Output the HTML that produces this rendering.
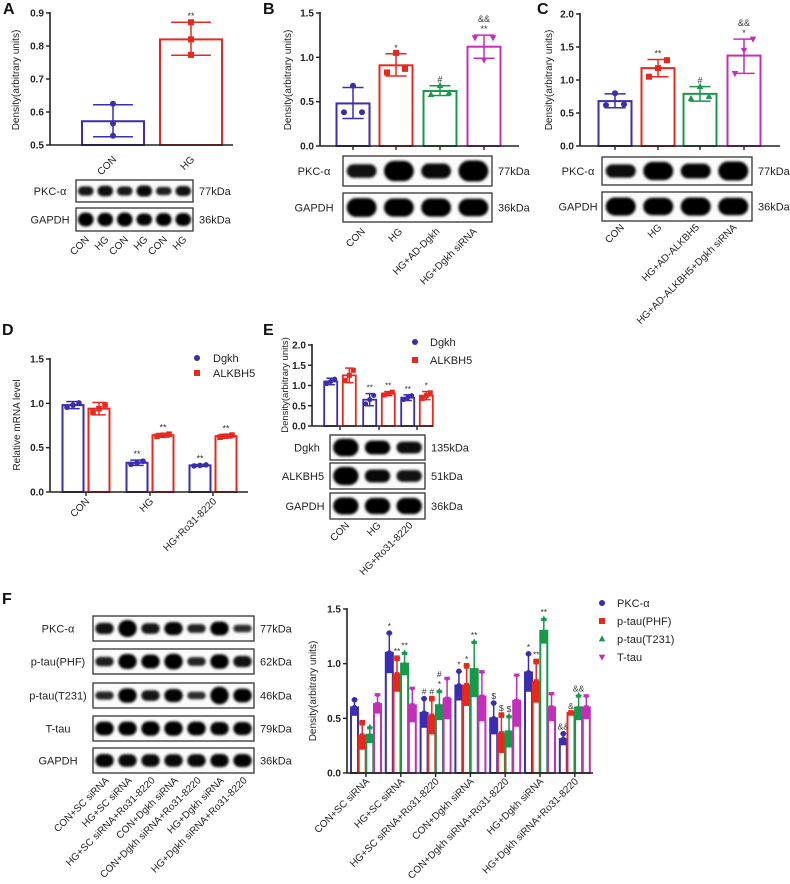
<!DOCTYPE html>
<html><head><meta charset="utf-8">
<style>
html,body{margin:0;padding:0;background:#fff;}
svg{display:block;font-family:"Liberation Sans",Arial,sans-serif;}
</style></head>
<body>
<svg id="fig" width="790" height="884" viewBox="0 0 790 884" xmlns="http://www.w3.org/2000/svg">
<defs><filter id="blur" x="-20%" y="-50%" width="140%" height="200%"><feGaussianBlur stdDeviation="1.2"/></filter></defs>
<g font-weight="bold" font-size="16" fill="#111">
<text x="3" y="14">A</text>
<text x="263" y="14">B</text>
<text x="537" y="14">C</text>
<text x="2" y="335">D</text>
<text x="263" y="335">E</text>
<text x="2" y="604">F</text>
</g>
</svg>
<script>
// ---- Panel A data ----
const aCats=['CON','HG'];
const aMean=[0.572,0.82];
const aLo=[0.525,0.772];
const aHi=[0.622,0.872];
const aPts=[[0.625,0.565,0.528],[0.872,0.82,0.773]];
const aSig=['','**'];
const aTicks=[0.5,0.6,0.7,0.8,0.9];
// ---- Panel B data ----
const bCats=['CON','HG','HG+AD-Dgkh','HG+Dgkh siRNA'];
const bMean=[0.48,0.91,0.62,1.12];
const bLo=[0.31,0.79,0.57,0.99];
const bHi=[0.66,1.04,0.68,1.25];
const bPts=[[0.38,0.68,0.38],[0.83,1.05,0.87],[0.58,0.68,0.6],[1.22,0.97,1.22]];
const bSig=['','*','#','&&\n**'];
const bTicks=[0,0.5,1.0,1.5];
// ---- Panel C data ----
const cCats=['CON','HG','HG+AD-ALKBH5','HG+AD-ALKBH5+Dgkh siRNA'];
const cMean=[0.68,1.18,0.79,1.37];
const cLo=[0.58,1.05,0.68,1.1];
const cHi=[0.79,1.31,0.9,1.62];
const cPts=[[0.62,0.8,0.63],[1.05,1.18,1.3],[0.72,0.9,0.75],[1.1,1.45,1.62]];
const cSig=['','**','#','&&\n*'];
const cTicks=[0,0.5,1.0,1.5,2.0];
// ---- Panel D data ----
const dCats=['CON','HG','HG+Ro31-8220'];
const dDgkh=[0.98,0.33,0.3];
const dAlk=[0.94,0.64,0.63];
const dDgkhErr=[0.04,0.03,0.01];
const dAlkErr=[0.07,0.02,0.02];
const dDgkhSig=['','**','**'];
const dAlkSig=['','**','**'];
const dTicks=[0,0.5,1.0,1.5];
// ---- Panel E data ----
const eCats=['CON','HG','HG+Ro31-8220'];
const eDgkh=[1.1,0.65,0.7];
const eAlk=[1.25,0.8,0.75];
const eDgkhErr=[0.08,0.15,0.07];
const eAlkErr=[0.18,0.05,0.1];
const eDgkhSig=['','**','**'];
const eAlkSig=['','**','*'];
const eTicks=[0,0.5,1.0,1.5,2.0];
// ---- Panel F data ----
const fCats=['CON+SC siRNA','HG+SC siRNA','HG+SC siRNA+Ro31-8220','CON+Dgkh siRNA','CON+Dgkh siRNA+Ro31-8220','HG+Dgkh siRNA','HG+Dgkh siRNA+Ro31-8220'];
const fSeries=['PKC-α','p-tau(PHF)','p-tau(T231)','T-tau'];
const fPKC=[0.6,1.1,0.55,0.8,0.5,0.92,0.31];
const fPHF=[0.34,0.9,0.52,0.8,0.36,0.835,0.55];
const fT231=[0.35,1.0,0.62,0.95,0.38,1.3,0.6];
const fTau=[0.63,0.62,0.68,0.7,0.66,0.6,0.6];
const fPKCHi=[0.67,1.28,0.68,0.93,0.64,1.09,0.36];
const fPHFHi=[0.46,1.05,0.68,0.98,0.53,1.02,0.55];
const fT231Hi=[0.42,1.1,0.75,1.2,0.52,1.41,0.71];
const fTauHi=[0.71,0.77,0.86,0.92,0.89,0.72,0.7];
const fPKCSig=['','*','#','*','$','*','&&'];
const fPHFSig=['','**','#','*','$','**','&'];
const fT231Sig=['','**','#\n*','**','$','**','&&'];
const fTauSig=['','','','','','',''];
const fTicks=[0,0.5,1.0,1.5];

const NS='http://www.w3.org/2000/svg';
const svg=document.getElementById('fig');
const COL=['#3a2db0','#e8281e','#17994a','#c22fb8'];
const SHP=['circle','square','up','down'];
function mk(tag,attrs,parent){const e=document.createElementNS(NS,tag);for(const k in attrs)e.setAttribute(k,attrs[k]);(parent||svg).appendChild(e);return e;}
function txt(x,y,s,attrs,parent){const e=mk('text',Object.assign({x:x,y:y},attrs||{}),parent);e.textContent=s;return e;}
function scaleY(bot,top,vmin,vmax){return v=>bot-(v-vmin)/(vmax-vmin)*(bot-top);}
function axes(g,ax,top,bot,xEnd,ticks,y,ticksX,fs){
  const l1=mk('line',{x1:ax,y1:top-1,x2:ax,y2:bot,stroke:'#222','stroke-width':1.6},g);
  
  
  const l2=mk('line',{x1:ax,y1:bot,x2:xEnd,y2:bot,stroke:'#222','stroke-width':1.6},g);
  
  
  ticks.forEach(t=>{
    mk('line',{x1:ax-4,y1:y(t),x2:ax,y2:y(t),stroke:'#222','stroke-width':1.4},g);
    const tl=txt(ax-6,y(t)+3.5,t.toFixed(1),{'text-anchor':'end','font-size':fs||10,'font-weight':'bold',fill:'#222'},g);
    
    
  });
  ticksX.forEach(x=>mk('line',{x1:x,y1:bot,x2:x,y2:bot+4,stroke:'#222','stroke-width':1.4},g));
}
function marker(g,shape,x,y,r,c){
  if(shape==='circle')return mk('circle',{cx:x,cy:y,r:r,fill:c},g);
  if(shape==='square')return mk('rect',{x:x-r,y:y-r,width:2*r,height:2*r,fill:c},g);
  if(shape==='up')return mk('polygon',{points:`${x},${y-r*1.2} ${x-r*1.1},${y+r*0.8} ${x+r*1.1},${y+r*0.8}`,fill:c},g);
  return mk('polygon',{points:`${x},${y+r*1.2} ${x-r*1.1},${y-r*0.8} ${x+r*1.1},${y-r*0.8}`,fill:c},g);
}
function bar(g,cx,w,mean,lo,hi,y,bot,col,sw){
  const r=mk('rect',{x:cx-w/2,y:y(mean),width:w,height:bot-y(mean),fill:'#fff',stroke:col,'stroke-width':sw||2},g);
  
  
  const cap=Math.max(w*0.32,3);
  mk('line',{x1:cx,y1:y(hi),x2:cx,y2:y(lo),stroke:col,'stroke-width':1.5},g);
  mk('line',{x1:cx-cap,y1:y(hi),x2:cx+cap,y2:y(hi),stroke:col,'stroke-width':1.5},g);
  mk('line',{x1:cx-cap,y1:y(lo),x2:cx+cap,y2:y(lo),stroke:col,'stroke-width':1.5},g);
  return r;
}
function sig(g,x,yTop,s,fs){
  const lines=s.split('\n').reverse();
  lines.forEach((ln,i)=>{if(ln)txt(x,yTop-3-i*10,ln,{'text-anchor':'middle','font-size':fs||9,fill:'#333'},g);});
}
function rotLabel(g,x,y,s,fs){
  const t=txt(x,y,s,{'text-anchor':'end','font-size':fs||9.5,fill:'#222',transform:`rotate(-45 ${x} ${y})`},g);
  
  
  return t;
}
function yTitle(g,x,cy,s,fs){
  const t=txt(x,cy,s,{'text-anchor':'middle','font-size':fs||10,fill:'#222',transform:`rotate(-90 ${x} ${cy})`},g);
  
  
}
function blot(g,x1,y1,x2,y2,ints,label,kda,name,lx){
  const bg=mk('g',{},g);
  
  
  mk('rect',{x:x1,y:y1,width:x2-x1,height:y2-y1,fill:'#fbfbfb',stroke:'#333','stroke-width':1.3},bg);
  const n=ints.length,lw=(x2-x1)/n,h=y2-y1;
  ints.forEach((v,i)=>{
    const cx=x1+lw*(i+0.5),bw=lw*0.8,bh=Math.max(3,h*0.2+h*0.5*v);
    mk('rect',{x:cx-bw/2,y:(y1+y2)/2-bh/2,width:bw,height:bh,rx:bh/2,fill:`rgba(5,5,5,${0.65+0.35*Math.min(1,v+0.3)})`,filter:'url(#blur)'},bg);
  });
  txt(lx,(y1+y2)/2+4,label,{'text-anchor':'middle','font-size':11,fill:'#222'},bg);
  txt(x2+6,(y1+y2)/2+4,kda,{'font-size':11,fill:'#222'},bg);
}

// ===== Panel A =====
(function(){
  const g=mk('g',{});
  const ax=50,top=13,bot=145,xEnd=233,cs=[113,191],w=62;
  const y=scaleY(bot,top,0.5,0.9);
  aCats.forEach((c,i)=>{
    bar(g,cs[i],w,aMean[i],aLo[i],aHi[i],y,bot,COL[i],2);
    aPts[i].forEach(p=>marker(g,SHP[i],cs[i],y(p),3,COL[i]));
    sig(g,cs[i],y(aHi[i]),aSig[i]);
    rotLabel(g,cs[i]+4,160,c,10);
  });
  axes(g,ax,top,bot,xEnd,aTicks,y,[],10);
  yTitle(g,19,80,'Density(arbitrary units)',10);
  blot(g,76,180,193,202,[0.45,0.55,0.42,0.6,0.35,0.5],'PKC-α','77kDa','blot-a-pkc',50);
  blot(g,76,208,193,231,[0.8,0.75,0.8,0.65,0.7,0.7],'GAPDH','36kDa','blot-a-gapdh',50);
  ['CON','HG','CON','HG','CON','HG'].forEach((s,i)=>rotLabel(g,76+19.5*(i+0.5)+4,240,s,10));
})();
// ===== Panel B =====
(function(){
  const g=mk('g',{});
  const ax=320,top=13,bot=146,xEnd=519,cs=[353,396,440,484],w=33;
  const y=scaleY(bot,top,0,1.5);
  bCats.forEach((c,i)=>{
    bar(g,cs[i],w,bMean[i],bLo[i],bHi[i],y,bot,COL[i],2);
    bPts[i].forEach((p,k)=>marker(g,SHP[i],cs[i]+(k-1)*9,y(p),3,COL[i]));
    sig(g,cs[i],y(bHi[i]),bSig[i]);
  });
  axes(g,ax,top,bot,xEnd,bTicks,y,cs,10);
  yTitle(g,291,80,'Density(arbitrary units)',10);
  blot(g,343,156,492,186,[0.5,0.95,0.6,1.0],'PKC-α','77kDa','blot-b-pkc',314);
  blot(g,343,193,492,222,[0.9,0.85,0.85,0.8],'GAPDH','36kDa','blot-b-gapdh',314);
  bCats.forEach((c,i)=>rotLabel(g,343+37.25*(i+0.5)+4,232,c,10));
})();
// ===== Panel C =====
(function(){
  const g=mk('g',{});
  const ax=580,top=14,bot=146,xEnd=780,cs=[615,658,700,744],w=33;
  const y=scaleY(bot,top,0,2);
  cCats.forEach((c,i)=>{
    bar(g,cs[i],w,cMean[i],cLo[i],cHi[i],y,bot,COL[i],2);
    cPts[i].forEach((p,k)=>marker(g,SHP[i],cs[i]+(k-1)*9,y(p),3,COL[i]));
    sig(g,cs[i],y(cHi[i]),cSig[i]);
  });
  axes(g,ax,top,bot,xEnd,cTicks,y,cs,10);
  yTitle(g,552,80,'Density(arbitrary units)',10);
  blot(g,602,157,752,185,[0.55,0.9,0.65,0.95],'PKC-α','77kDa','blot-c-pkc',578);
  blot(g,602,192,752,221,[0.85,0.8,0.85,0.8],'GAPDH','36kDa','blot-c-gapdh',578);
  cCats.forEach((c,i)=>rotLabel(g,602+37.5*(i+0.5)+4,228,c,10));
})();
// ===== Panel D =====
(function(){
  const g=mk('g',{});
  const ax=50,top=359,bot=492,xEnd=248,gs=[86,150,213],off=13,w=21;
  const y=scaleY(bot,top,0,1.5);
  dCats.forEach((c,i)=>{
    const xb=gs[i]-off,xr=gs[i]+off;
    bar(g,xb,w,dDgkh[i],dDgkh[i]-dDgkhErr[i],dDgkh[i]+dDgkhErr[i],y,bot,COL[0],2);
    bar(g,xr,w,dAlk[i],dAlk[i]-dAlkErr[i],dAlk[i]+dAlkErr[i],y,bot,COL[1],2);
    [-6,0,6].forEach((o,k)=>{marker(g,'circle',xb+o,y(dDgkh[i]+(k-1)*dDgkhErr[i]*0.6),2.8,COL[0]);marker(g,'square',xr+o,y(dAlk[i]+(k-1)*dAlkErr[i]*0.6),2.8,COL[1]);});
    sig(g,xb,y(dDgkh[i]+dDgkhErr[i]),dDgkhSig[i]);
    sig(g,xr,y(dAlk[i]+dAlkErr[i]),dAlkSig[i]);
    rotLabel(g,gs[i]+4,502,c,10);
  });
  axes(g,ax,top,bot,xEnd,dTicks,y,gs,10);
  yTitle(g,20,425,'Relative mRNA level',10);
  const lg=mk('g',{},g);
  marker(lg,'circle',197,358,3,COL[0]);txt(213,362,'Dgkh',{'font-size':11,fill:'#222'},lg);
  marker(lg,'square',197,373,3,COL[1]);txt(213,377,'ALKBH5',{'font-size':11,fill:'#222'},lg);
})();
// ===== Panel E =====
(function(){
  const g=mk('g',{});
  const ax=312,top=345,bot=426,xEnd=433,gs=[340,379,417],off=9.3,w=13;
  const y=scaleY(bot,top,0,2);
  eCats.forEach((c,i)=>{
    const xb=gs[i]-off,xr=gs[i]+off;
    bar(g,xb,w,eDgkh[i],eDgkh[i]-eDgkhErr[i],eDgkh[i]+eDgkhErr[i],y,bot,COL[0],1.8);
    bar(g,xr,w,eAlk[i],eAlk[i]-eAlkErr[i],eAlk[i]+eAlkErr[i],y,bot,COL[1],1.8);
    [-4,0,4].forEach((o,k)=>{marker(g,'circle',xb+o,y(eDgkh[i]+(k-1)*eDgkhErr[i]*0.7),2.5,COL[0]);marker(g,'square',xr+o,y(eAlk[i]+(k-1)*eAlkErr[i]*0.7),2.5,COL[1]);});
    sig(g,xb,y(eDgkh[i]+eDgkhErr[i]),eDgkhSig[i],8);
    sig(g,xr,y(eAlk[i]+eAlkErr[i]),eAlkSig[i],8);
  });
  axes(g,ax,top,bot,xEnd,eTicks,y,gs,10);
  yTitle(g,288,385,'Density(arbitrary units)',9.5);
  const lg=mk('g',{},g);
  marker(lg,'circle',415,342,3,COL[0]);txt(430,346,'Dgkh',{'font-size':11,fill:'#222'},lg);
  marker(lg,'square',415,360,3,COL[1]);txt(430,364,'ALKBH5',{'font-size':11,fill:'#222'},lg);
  blot(g,330,435,425,460,[1.0,0.7,0.55],'Dgkh','135kDa','blot-e-dgkh',307);
  blot(g,330,463,425,489,[1.0,0.6,0.5],'ALKBH5','51kDa','blot-e-alkbh5',303);
  blot(g,330,493,425,519,[0.9,0.85,0.85],'GAPDH','36kDa','blot-e-gapdh',305);
  eCats.forEach((c,i)=>rotLabel(g,330+31.7*(i+0.5)+4,526,c,10));
})();
// ===== Panel F =====
(function(){
  const g=mk('g',{});
  const ax=347,top=609,bot=773,xEnd=593,offs=[-11.5,-3.8,3.8,11.5],w=7;
  const y=scaleY(bot,top,0,1.5);
  const means=[fPKC,fPHF,fT231,fTau],his=[fPKCHi,fPHFHi,fT231Hi,fTauHi],sigs=[fPKCSig,fPHFSig,fT231Sig,fTauSig];
  const gs=fCats.map((c,i)=>366+34.8*i);
  fCats.forEach((c,i)=>{
    means.forEach((arr,s)=>{
      const x=gs[i]+offs[s],m=arr[i],hi=his[s][i],lo=Math.max(0,2*m-hi);
      bar(g,x,w,m,lo,hi,y,bot,COL[s],2);
      mk('rect',{x:x-w/2,y:y(m),width:w,height:Math.max(0,y(lo)-y(m)),fill:COL[s]},g);
      marker(g,SHP[s],x,y(hi),2.8,COL[s]);
      marker(g,SHP[s],x,y(m),2.5,COL[s]);
      sig(g,x,y(hi)-1,sigs[s][i],8.5);
    });
    rotLabel(g,gs[i]+4,782,c,10);
  });
  axes(g,ax,top,bot,xEnd,fTicks,y,gs,10);
  yTitle(g,316,691,'Density(arbitrary units)',10);
  const lg=mk('g',{},g);
  fSeries.forEach((s,i)=>{marker(lg,SHP[i],602,603+18*i,3,COL[i]);txt(617,607+18*i,s,{'font-size':11,fill:'#222'},lg);});
  blot(g,93,616,254,641,[0.5,0.95,0.45,0.65,0.3,0.7,0.2],'PKC-α','77kDa','blot-f-pkc',58);
  blot(g,93,649,254,674,[0.35,0.8,0.7,0.85,0.3,0.75,0.5],'p-tau(PHF)','62kDa','blot-f-phf',58);
  blot(g,93,683,254,708,[0.25,0.75,0.45,0.65,0.2,1.0,0.7],'p-tau(T231)','46kDa','blot-f-t231',58);
  blot(g,93,716,254,741,[0.7,0.7,0.75,0.75,0.7,0.65,0.65],'T-tau','79kDa','blot-f-ttau',58);
  blot(g,93,748,254,773,[0.65,0.6,0.6,0.6,0.6,0.65,0.65],'GAPDH','36kDa','blot-f-gapdh',58);
  fCats.forEach((c,i)=>rotLabel(g,93+23*(i+0.5)+5,781,c,10));
})();
</script>
</body></html>
